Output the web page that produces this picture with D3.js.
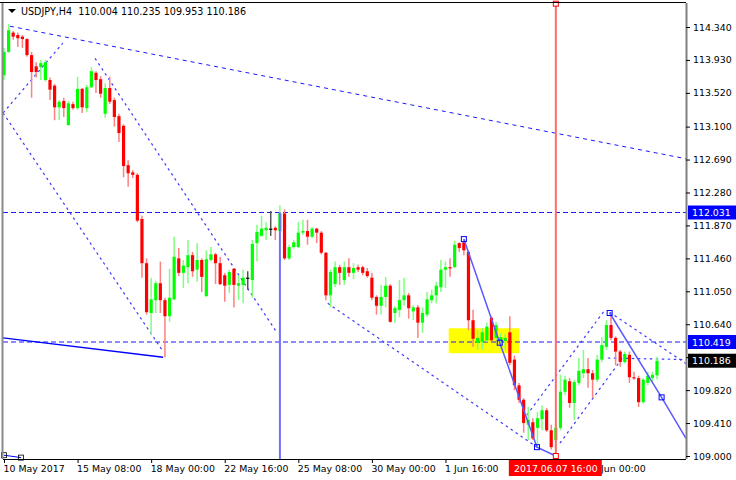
<!DOCTYPE html>
<html><head><meta charset="utf-8">
<script src="https://cdn.jsdelivr.net/npm/d3@7/dist/d3.min.js"></script>
<style>body{margin:0;background:#fff}svg{display:block}text{font-family:"DejaVu Sans",sans-serif}</style>
</head><body><svg id="c" width="736" height="480"></svg>
<script>
const symbol = "USDJPY,H4";
const open = [
113.74,114.03,114.27,114.24,114.22,114.19,113.99,113.85,113.84,113.68,
113.68,113.61,113.34,113.42,113.12,113.38,113.33,113.57,113.33,113.59,
113.77,113.69,113.26,113.58,113.43,113.23,113.11,112.62,112.53,112.50,
111.95,111.40,110.78,110.94,111.15,110.94,110.74,110.95,111.46,111.28,
111.35,111.50,111.32,111.44,110.99,111.44,111.51,111.40,111.25,111.13,
111.33,111.12,111.13,111.22,111.19,111.65,111.74,111.81,111.83,111.84,
111.80,112.02,111.46,111.60,111.60,111.78,111.80,111.73,111.83,111.78,
111.53,111.00,111.14,111.35,111.19,111.35,111.28,111.35,111.35,111.30,
111.22,110.98,110.87,110.98,111.12,110.78,110.82,110.94,111.00,110.80,
110.85,110.66,110.76,110.94,111.00,111.10,111.32,111.35,111.35,111.65,
111.66,111.54,110.69,110.41,110.42,110.44,110.72,110.47,110.44,110.43,
110.54,110.20,109.88,109.70,109.39,109.42,109.35,109.46,109.57,109.32,
109.20,109.35,109.80,109.93,109.66,109.91,110.03,110.08,110.03,109.95,
110.20,110.36,110.63,110.47,110.30,110.17,110.26,109.98,109.97,109.67,
109.91,109.97,110.004];
const high = [
114.08,114.38,114.29,114.27,114.24,114.20,114.03,113.90,113.93,113.93,
113.71,113.63,113.43,113.46,113.42,113.41,113.72,113.58,113.62,113.84,
113.79,113.73,113.64,113.72,113.46,113.26,113.13,112.68,112.56,112.52,
111.99,111.46,111.22,111.18,111.42,110.97,111.33,111.73,111.59,111.44,
111.69,111.54,111.65,111.46,111.56,111.60,111.53,111.48,111.28,111.32,
111.34,111.25,111.32,111.30,111.69,111.88,111.99,111.91,112.05,111.86,
112.12,112.07,111.63,111.69,111.91,111.94,111.94,111.85,111.84,111.80,
111.54,111.32,111.42,111.38,111.42,111.46,111.40,111.38,111.37,111.34,
111.28,111.00,111.13,111.23,111.14,110.87,111.19,111.22,111.03,110.88,
110.88,110.85,111.04,111.07,111.17,111.44,111.42,111.46,111.68,111.66,
111.70,111.56,110.82,110.57,110.59,110.66,110.74,110.67,110.53,110.52,
110.74,110.25,109.91,109.72,109.61,109.47,109.55,109.63,109.60,109.39,
109.39,110.01,110.00,109.97,109.95,110.22,110.32,110.22,110.07,110.26,
110.48,110.69,110.78,110.49,110.32,110.30,110.30,110.05,110.00,109.97,
110.05,110.05,110.235];
const low = [
113.68,114.02,114.18,114.09,114.08,113.97,113.46,113.71,113.68,113.66,
113.43,113.18,113.18,113.22,113.11,113.31,113.31,113.27,113.28,113.58,
113.52,113.46,113.21,113.38,113.10,112.91,112.47,112.35,112.46,111.91,
111.22,110.76,110.51,110.78,110.78,110.23,110.67,110.94,111.24,111.09,
111.15,111.23,111.17,111.04,110.98,111.42,111.14,111.13,110.92,111.03,
110.85,110.94,110.90,111.07,110.97,111.42,111.73,111.69,111.74,111.69,
111.78,111.44,111.44,111.58,111.59,111.75,111.63,111.71,111.65,111.51,
110.94,110.85,111.10,111.13,111.13,111.23,111.20,111.29,111.25,111.22,
110.94,110.76,110.76,110.85,110.66,110.66,110.73,110.87,110.71,110.69,
110.47,110.53,110.73,110.90,110.90,111.04,111.09,111.23,111.34,111.54,
111.50,110.57,110.36,110.32,110.32,110.42,110.42,110.44,110.34,110.32,
110.13,109.82,109.66,109.29,109.20,109.20,109.10,109.32,109.30,109.08,
109.00,109.32,109.76,109.60,109.45,109.88,109.97,109.85,109.72,109.92,
110.17,110.32,110.44,110.13,110.11,110.15,109.91,109.95,109.61,109.65,
109.88,109.92,109.953];
const close = [
114.03,114.30,114.22,114.20,114.19,113.99,113.78,113.78,113.89,113.90,
113.56,113.34,113.41,113.33,113.39,113.33,113.57,113.34,113.59,113.79,
113.68,113.51,113.58,113.41,113.22,113.02,112.61,112.52,112.50,111.93,
111.40,110.79,110.95,111.15,110.94,110.74,110.97,111.48,111.28,111.37,
111.50,111.30,111.44,111.23,111.45,111.51,111.40,111.14,111.12,111.29,
111.13,111.15,111.22,111.22,111.64,111.79,111.83,111.84,111.83,111.81,
112.02,111.46,111.60,111.66,111.78,111.80,111.73,111.83,111.78,111.53,
111.00,111.29,111.35,111.28,111.35,111.28,111.34,111.32,111.28,111.24,
110.97,110.87,110.98,111.12,110.67,110.84,110.94,111.00,110.84,110.85,
110.66,110.78,110.95,111.00,111.12,111.32,111.35,111.34,111.63,111.59,
111.56,110.69,110.46,110.47,110.54,110.61,110.44,110.63,110.48,110.47,
110.16,109.88,109.70,109.41,109.45,109.22,109.47,109.57,109.32,109.11,
109.35,109.80,109.95,109.66,109.92,110.06,110.08,110.03,109.95,110.20,
110.38,110.63,110.47,110.30,110.17,110.27,109.98,109.97,109.67,109.95,
110.00,110.01,110.186];

const priceTicks = ["114.340","113.930","113.520","113.100","112.690","112.280","111.870","111.460","111.050","110.640","110.230","109.820","109.410","109.000"];
const timeTickIdx = [0,16,32,48,64,80,96,112,128];
const timeTickLabels = ["10 May 2017","15 May 08:00","18 May 00:00","22 May 16:00","25 May 08:00","30 May 00:00","1 Jun 16:00","6 Jun 08:00","8 Jun 00:00"];
const cursorIdx = 120, cursorLabel = "2017.06.07 16:00";
const hLevels = [112.031, 110.419];
const vBlueIdx = 60;
const yellowBox = {i0:96.7, i1:112.0, p0:110.59, p1:110.28};
const trendTop = [[1.3,114.35],[148.3,112.70]];
const dotSegs = [
 [[-0.2,113.27],[12.8,114.14]],
 [[-0.2,113.27],[34.6,110.30]],
 [[19.8,113.95],[59.3,110.54]],
 [[70.4,110.90],[115.9,109.11]],
 [[113.7,109.51],[130.7,110.82]],
 [[120.9,109.16],[135.0,110.26]],
 [[131.7,110.79],[148.3,110.15]],
 [[131.3,110.22],[148.3,110.20]]
];
const solidSeg = [[-0.2,110.47],[34.6,110.23]];
const zig1 = [[100,111.70],[107.8,110.41],[115.9,109.11],[120,109.00]];
const zig2 = [[131.7,110.78],[143,109.73],[148.3,109.22]];
const blueSquares = [[100,111.70],[107.8,110.41],[115.9,109.11],[131.7,110.78],[143,109.73]];
const redSquares = [[120,114.63],[120,109.00]];
const cornerObj = [[0,109.01],[3.7,108.98]];

const svg = d3.select("#c");
const L = 3, R = 686, T = 3, B = 459;
const x = d3.scaleLinear().domain([0,142]).range([4,657]);
const y = d3.scaleLinear().domain([109.0,114.34]).range([456,27]);
const last = close[close.length-1];

svg.append("rect").attr("width",736).attr("height",480).attr("fill","#fff");
svg.append("defs").append("clipPath").attr("id","pc").append("rect")
  .attr("x",L).attr("y",T).attr("width",R-L).attr("height",B-T);
const g = svg.append("g").attr("clip-path","url(#pc)");
const line = d3.line().x(d=>x(d[0])).y(d=>y(d[1]));

// yellow rectangle
g.append("rect").attr("x",x(yellowBox.i0)).attr("y",y(yellowBox.p0))
 .attr("width",x(yellowBox.i1)-x(yellowBox.i0)).attr("height",y(yellowBox.p1)-y(yellowBox.p0))
 .attr("fill","#ffff00");

// horizontal levels
hLevels.forEach(p=>g.append("line").attr("x1",L).attr("x2",R).attr("y1",y(p)).attr("y2",y(p))
  .attr("stroke","#1a1aff").attr("stroke-width",1).attr("stroke-dasharray","5,3"));

// trend top
g.append("path").attr("d",line(trendTop)).attr("fill","none").attr("stroke","#1a1aff")
 .attr("stroke-width",1).attr("stroke-dasharray","4,4");
dotSegs.forEach(s=>g.append("path").attr("d",line(s)).attr("fill","none").attr("stroke","#3a3aff")
 .attr("stroke-width",1.2).attr("stroke-dasharray","2.5,3.5"));
g.append("path").attr("d",line(solidSeg)).attr("fill","none").attr("stroke","#0000ff").attr("stroke-width",1.4);

// candles
const idx = d3.range(open.length);
const up = i => close[i] > open[i], flat = i => close[i] === open[i];
g.selectAll(".wick").data(idx).join("line")
 .attr("x1",i=>x(i)).attr("x2",i=>x(i)).attr("y1",i=>y(high[i])).attr("y2",i=>y(low[i]))
 .attr("stroke",i=>flat(i)?"#555":(up(i)?"#80ff80":"#ff8080")).attr("stroke-width",1.5);
g.selectAll(".body").data(idx).join("rect")
 .attr("x",i=>x(i)-1.6).attr("width",3.2)
 .attr("y",i=>y(Math.max(open[i],close[i])))
 .attr("height",i=>Math.max(1.2,Math.abs(y(open[i])-y(close[i]))))
 .attr("fill",i=>flat(i)?"#000":(up(i)?"#00ff00":"#ff0000"));

// vertical lines
g.append("line").attr("x1",x(vBlueIdx)).attr("x2",x(vBlueIdx)).attr("y1",y(hLevels[0])).attr("y2",B)
 .attr("stroke","#7070ff").attr("stroke-width",2);
g.append("line").attr("x1",x(cursorIdx)).attr("x2",x(cursorIdx)).attr("y1",y(redSquares[0][1])).attr("y2",y(redSquares[1][1]))
 .attr("stroke","#ff6a6a").attr("stroke-width",2);

// zigzags
[zig1,zig2].forEach(z=>g.append("path").attr("d",line(z)).attr("fill","none").attr("stroke","#5a5aff").attr("stroke-width",1.5));
g.append("path").attr("d",line(cornerObj)).attr("fill","none").attr("stroke","#0000ff").attr("stroke-width",1);
blueSquares.forEach(p=>g.append("rect").attr("x",x(p[0])-2.5).attr("y",y(p[1])-2.5).attr("width",5).attr("height",5)
 .attr("fill","none").attr("stroke","#0000ff").attr("stroke-width",1));
redSquares.forEach(p=>svg.append("rect").attr("x",x(p[0])-2.5).attr("y",y(p[1])-2.5).attr("width",5).attr("height",5)
 .attr("fill","#fff").attr("stroke","#ff0000").attr("stroke-width",1));
cornerObj.forEach(p=>svg.append("rect").attr("x",x(p[0])-2.5).attr("y",y(p[1])-2.5).attr("width",5).attr("height",5)
 .attr("fill","none").attr("stroke","#000").attr("stroke-width",0.8));

// frame
svg.append("line").attr("x1",0).attr("x2",R).attr("y1",2.5).attr("y2",2.5).attr("stroke","#000").attr("stroke-width",1.2);
svg.append("line").attr("x1",2.5).attr("x2",2.5).attr("y1",3).attr("y2",B).attr("stroke","#8a8a8a").attr("stroke-width",2);

// right axis
const ay = svg.append("g").attr("transform",`translate(${R},0)`)
 .call(d3.axisRight(y).tickValues(priceTicks.map(Number)).tickSize(4).tickPadding(3).tickFormat(d=>d.toFixed(3)));
ay.select(".domain").attr("stroke","#808080").attr("stroke-width",2).attr("d",`M0.5,${T}V${B}`);
ay.selectAll(".tick line").attr("stroke","#000");
ay.selectAll("text").attr("font-size","9.4px").attr("fill","#000").attr("font-family","DejaVu Sans");

// bottom axis
const ax = svg.append("g").attr("transform",`translate(0,${B})`)
 .call(d3.axisBottom(x).tickValues(timeTickIdx).tickSize(4).tickFormat((d,i)=>timeTickLabels[i]));
ax.select(".domain").attr("stroke","#000").attr("stroke-width",1.2).attr("d",`M${L},0.5H${R}`);
ax.selectAll(".tick line").attr("stroke","#000");
ax.selectAll("text").attr("text-anchor","start").attr("x",-1).attr("y",6).attr("dy","0.71em")
 .attr("font-size","9.4px").attr("fill","#000").attr("font-family","DejaVu Sans");

// price labels
function priceTag(p, fill, txt){
  svg.append("rect").attr("x",R+2).attr("y",y(p)-7).attr("width",736-R-2).attr("height",14).attr("fill",fill);
  svg.append("text").attr("x",R+6).attr("y",y(p)+3.5).attr("fill","#fff").attr("font-size","9.4px").text(txt);
}
priceTag(hLevels[0],"#0000ff",hLevels[0].toFixed(3));
priceTag(hLevels[1],"#0000ff",hLevels[1].toFixed(3));
priceTag(last,"#000",last.toFixed(3));

// cursor time label
const cx = x(cursorIdx);
svg.append("rect").attr("x",cx-47).attr("y",B+1).attr("width",93).attr("height",16).attr("fill","#ff0000");
svg.append("text").attr("x",cx).attr("y",B+12.5).attr("text-anchor","middle").attr("fill","#fff").attr("font-size","9.4px").text(cursorLabel);

// title
svg.append("path").attr("d","M8,9H16L12,13Z").attr("fill","#000");
svg.append("text").attr("x",21).attr("y",15).attr("font-size","9.6px").attr("fill","#000")
 .attr("xml:space","preserve")
 .text(`${symbol}  ${open[142].toFixed(3)} ${high[142].toFixed(3)} ${low[142].toFixed(3)} ${last.toFixed(3)}`);
</script></body></html>
